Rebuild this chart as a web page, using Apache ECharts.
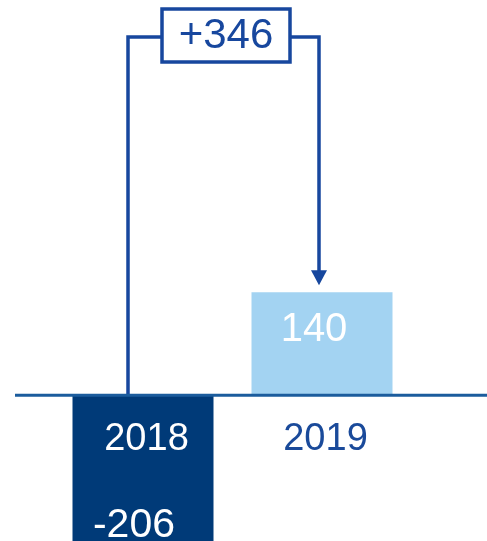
<!DOCTYPE html>
<html>
<head>
<meta charset="utf-8">
<script src="https://cdn.jsdelivr.net/npm/echarts@6/dist/echarts.min.js"></script>
<style>
  html, body { margin: 0; padding: 0; background: #fff; }
  #chart { width: 487px; height: 541px; }
</style>
</head>
<body>
<div id="chart"></div>
<script>
const years = ['2018', '2019'];
const values = [-206, 140];
const barColors = ['#003a78', '#a3d3f2'];
const yearLabelColors = ['#ffffff', '#1a4a9a'];
const valueLabelColors = ['#ffffff', '#ffffff'];

const lineBlue = '#17479e';
const axisBlue = '#1b5c9d';
const font = 'Liberation Sans, Arial, sans-serif';

const chart = echarts.init(document.getElementById('chart'));

chart.setOption({
    animation: false,
    grid: { left: 53.5, right: 75.5, top: 0, bottom: -6, outerBoundsMode: 'none', containLabel: false },
    xAxis: {
        type: 'category',
        data: years,
        axisLine: { show: false },
        axisTick: { show: false },
        axisLabel: {
            margin: 25,
            fontSize: 38,
            fontFamily: font,
            padding: [0, 0, 0, 7],
            color: (v, i) => yearLabelColors[i]
        },
        z: 10
    },
    yAxis: {
        type: 'value', min: -206, max: 537,
        axisLine: { show: false }, axisTick: { show: false },
        axisLabel: { show: false }, splitLine: { show: false }
    },
    series: [{
        type: 'bar',
        barWidth: 141,
        clip: false,
        data: values.map((v, i) => ({
            value: v,
            itemStyle: { color: barColors[i] },
            label: {
                show: true,
                position: 'inside',
                offset: i === 0 ? [-9, 55] : [-8, -14],
                color: valueLabelColors[i],
                fontSize: i === 0 ? 41 : 40,
                fontFamily: font
            }
        }))
    }]
});

// positions taken from the scales
const zeroY = chart.convertToPixel({ yAxisIndex: 0 }, 0);
const bottomY = chart.convertToPixel({ yAxisIndex: 0 }, -206);
const x2018 = chart.convertToPixel({ xAxisIndex: 0 }, years[0]);
const x2019 = chart.convertToPixel({ xAxisIndex: 0 }, years[1]);
const top2019 = chart.convertToPixel({ yAxisIndex: 0 }, values[1]);
const diff = values[1] - values[0];

const leftX = x2018 - 15;
const rightX = x2019 - 3;
const bracketY = 37;
const boxL = 162, boxR = 290, boxT = 9, boxB = 62;

chart.setOption({
    // move year labels up to the zero line
    xAxis: { offset: zeroY - bottomY },
    graphic: [
        {
            type: 'line', z: 100,
            shape: { x1: 15, y1: zeroY, x2: 487, y2: zeroY },
            style: { stroke: axisBlue, lineWidth: 3 }
        },
        {
            type: 'polyline', z: 90,
            shape: { points: [[leftX, zeroY], [leftX, bracketY], [boxL, bracketY]] },
            style: { stroke: lineBlue, lineWidth: 3.5, fill: null }
        },
        {
            type: 'polyline', z: 90,
            shape: { points: [[boxR, bracketY], [rightX, bracketY], [rightX, top2019 - 18]] },
            style: { stroke: lineBlue, lineWidth: 3.5, fill: null }
        },
        {
            type: 'polygon', z: 90,
            shape: { points: [[rightX - 8, top2019 - 22], [rightX + 8, top2019 - 22], [rightX, top2019 - 7]] },
            style: { fill: lineBlue }
        },
        {
            type: 'rect', z: 90,
            shape: { x: boxL, y: boxT, width: boxR - boxL, height: boxB - boxT },
            style: { stroke: lineBlue, lineWidth: 3.5, fill: '#fff' }
        },
        {
            type: 'text', z: 91,
            x: (boxL + boxR) / 2, y: (boxT + boxB) / 2 + 1,
            style: {
                text: '+' + diff,
                fontSize: 42, fontFamily: font, fill: lineBlue,
                align: 'center', verticalAlign: 'middle'
            }
        }
    ]
});
</script>
</body>
</html>
